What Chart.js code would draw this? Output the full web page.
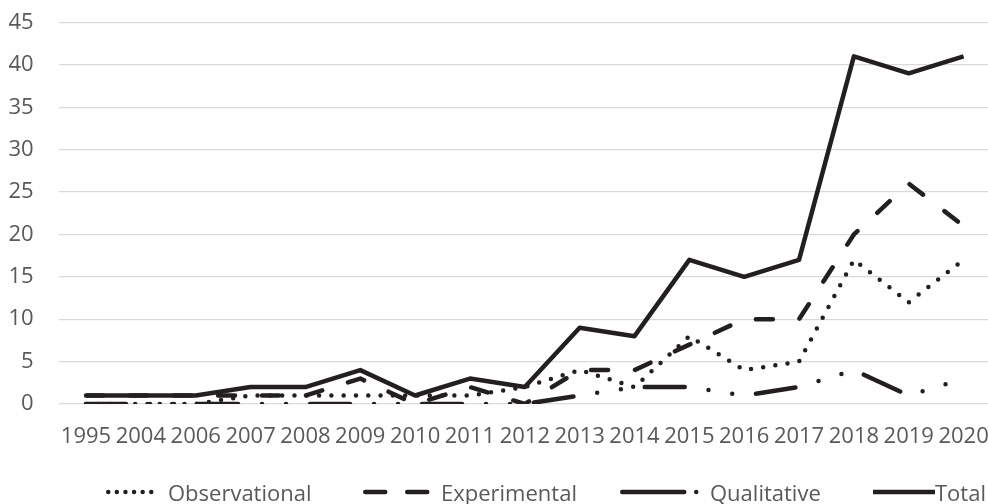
<!DOCTYPE html>
<html>
<head>
<meta charset="utf-8">
<script src="https://cdn.jsdelivr.net/npm/chart.js@4.4.0/dist/chart.umd.min.js"></script>
<style>
  html, body { margin: 0; padding: 0; background: #ffffff; overflow: hidden; }
  #wrap { position: relative; width: 991px; height: 504px; }
  #legend { position: absolute; left: 0; top: 0; width: 988px; height: 504px; pointer-events: none; }
  .item { position: absolute; top: 477px; height: 30px; display: flex; align-items: center; }
  .item svg { display: block; }
  .item span { font-family: 'Open Sans', 'Liberation Sans', sans-serif; font-size: 22px; color: #595959; margin-left: 10px; line-height: 30px; white-space: nowrap; }
</style>
</head>
<body>
<div id="wrap"><canvas id="c"></canvas><div id="legend"></div></div>
<script>
const categories = ['1995','2004','2006','2007','2008','2009','2010','2011','2012','2013','2014','2015','2016','2017','2018','2019','2020'];
const observational = [0,0,0,1,1,1,1,1,2,4,2,8,4,5,17,12,17];
const experimental  = [1,1,1,1,1,3,0,2,0,4,4,7,10,10,20,26,21];
const qualitative   = [0,0,0,0,0,0,0,0,0,1,2,2,1,2,4,1,3];
const total         = [1,1,1,2,2,4,1,3,2,9,8,17,15,17,41,39,41];
const yTicks = [0,5,10,15,20,25,30,35,40,45];
const seriesNames = ['Observational','Experimental','Qualitative','Total'];

const INK = '#231f20';
const LW = 4.5;
const dashes = {
  Observational: [0, 12.3],
  Experimental: [17, 27],
  Qualitative: [40, 24, 0, 24, 0, 24],
  Total: []
};
// legend swatches: [left px, swatch width, dasharray, linecap, text margin]
const legendSwatches = {
  Observational: [106, 52, '0 8.6', 'round', 10],
  Experimental: [363, 68, '20 22', 'round', 10],
  Qualitative: [620, 82, '62 12 0 40', 'round', 8],
  Total: [873, 62, '', 'butt', 0]
};

function ds(label, data, order) {
  return {
    label: label,
    data: data,
    borderColor: INK,
    backgroundColor: INK,
    borderWidth: LW,
    borderDash: dashes[label],
    borderCapStyle: label === 'Total' ? 'butt' : 'round',
    borderJoinStyle: 'round',
    pointRadius: 0,
    pointHoverRadius: 0,
    tension: 0,
    fill: false,
    order: order
  };
}

const FONT = "'Open Sans', 'Liberation Sans', sans-serif";

const chart = new Chart(document.getElementById('c'), {
  type: 'line',
  data: {
    labels: categories,
    datasets: [
      ds(seriesNames[0], observational, 3),
      ds(seriesNames[1], experimental, 2),
      ds(seriesNames[2], qualitative, 1),
      ds(seriesNames[3], total, 0)
    ]
  },
  options: {
    responsive: true,
    maintainAspectRatio: false,
    animation: false,
    layout: { padding: { top: 22.5, left: 0, right: 0, bottom: 0 } },
    plugins: {
      tooltip: { enabled: false },
      legend: { display: false }
    },
    scales: {
      x: {
        type: 'category',
        offset: true,
        afterFit: function(scale) {
          scale.height = 100;
          scale.paddingLeft = 0;
          scale.paddingRight = 0;
        },
        grid: { display: false, drawTicks: false },
        border: { display: false },
        ticks: {
          autoSkip: false,
          maxRotation: 0,
          minRotation: 0,
          padding: 20,
          color: '#595959',
          font: { family: FONT, size: 22 }
        }
      },
      y: {
        min: 0,
        max: 45,
        afterBuildTicks: function(scale) {
          scale.ticks = yTicks.map(function(v) { return { value: v }; });
        },
        afterFit: function(scale) {
          scale.width = 58.6;
          scale.paddingTop = 0;
          scale.paddingBottom = 0;
        },
        grid: { color: '#d9d9d9', lineWidth: 1.3, drawTicks: false },
        border: { display: false },
        ticks: {
          padding: 25,
          color: '#595959',
          font: { family: FONT, size: 22 }
        }
      }
    }
  }
});

// HTML legend built from the series names and their line styles
const legendEl = document.getElementById('legend');
seriesNames.forEach(function(name) {
  const sw = legendSwatches[name];
  const item = document.createElement('div');
  item.className = 'item';
  item.style.left = sw[0] + 'px';
  const svgNS = 'http://www.w3.org/2000/svg';
  const svg = document.createElementNS(svgNS, 'svg');
  svg.setAttribute('width', sw[1]);
  svg.setAttribute('height', 12);
  const ln = document.createElementNS(svgNS, 'line');
  const pad = sw[3] === 'round' ? LW / 2 : 0;
  ln.setAttribute('x1', pad);
  ln.setAttribute('x2', sw[1] - pad);
  ln.setAttribute('y1', 6);
  ln.setAttribute('y2', 6);
  ln.setAttribute('stroke', INK);
  ln.setAttribute('stroke-width', LW);
  ln.setAttribute('stroke-linecap', sw[3]);
  if (sw[2]) ln.setAttribute('stroke-dasharray', sw[2]);
  svg.appendChild(ln);
  const txt = document.createElement('span');
  txt.textContent = name;
  txt.style.marginLeft = sw[4] + 'px';
  item.appendChild(svg);
  item.appendChild(txt);
  legendEl.appendChild(item);
});
</script>
</body>
</html>
